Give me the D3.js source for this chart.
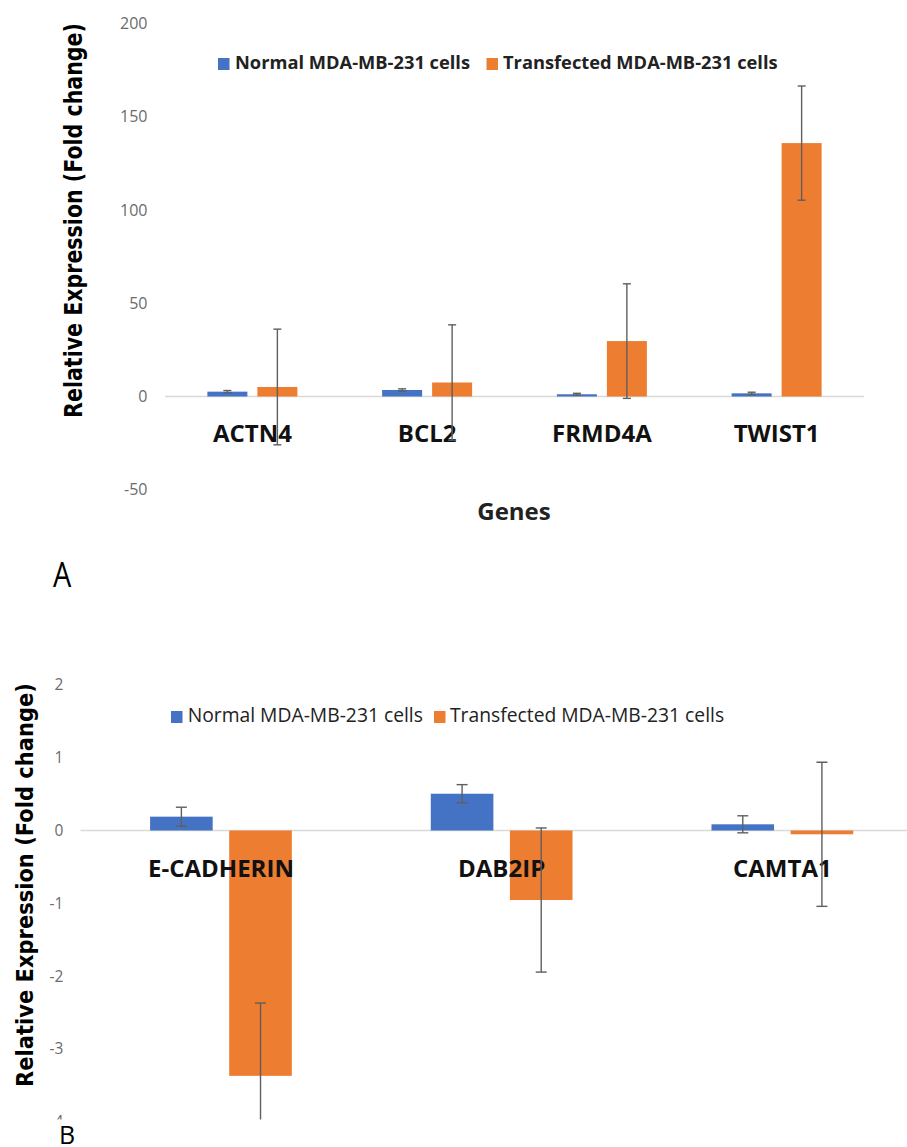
<!DOCTYPE html>
<html><head><meta charset="utf-8">
<script src="https://cdn.jsdelivr.net/npm/d3@7"></script>
<style>html,body{margin:0;padding:0;background:#fff;overflow:hidden}</style>
</head><body>
<svg id="fig" width="907" height="1147"></svg>
<script>
// ---------- data: panel A ----------
const genesA = ["ACTN4", "BCL2", "FRMD4A", "TWIST1"];
const normalA = [2.6, 3.5, 1.2, 1.7];
const normalErrA = [0.6, 0.6, 0.5, 0.6];
const transA = [5.1, 7.5, 29.7, 135.8];
const transErrA = [31.0, 30.9, 30.7, 30.6];
const ticksA = [-50, 0, 50, 100, 150, 200];

// ---------- data: panel B ----------
const genesB = ["E-CADHERIN", "DAB2IP", "CAMTA1"];
const normalB = [0.19, 0.505, 0.085];
const normalErrB = [0.13, 0.125, 0.117];
const transB = [-3.37, -0.955, -0.052];
const transErrB = [1.0, 0.99, 0.99];
const ticksB = [-4, -3, -2, -1, 0, 1, 2];

const seriesNames = ["Normal MDA-MB-231 cells", "Transfected MDA-MB-231 cells"];
const colors = ["#4472C4", "#ED7D31"];

const svg = d3.select("#fig");
svg.append("rect").attr("width", 907).attr("height", 1147).attr("fill", "#fff");

const SANS = "'Open Sans', 'Noto Sans', sans-serif";
const TITLE = "'DejaVu Sans', Verdana, sans-serif";

function fitRotated(g, txt, cx, cy, len, size) {
  const t = g.append("text").text(txt)
    .attr("font-family", TITLE).attr("font-weight", "bold")
    .attr("font-size", size).attr("fill", "#000")
    .attr("text-anchor", "middle").attr("dominant-baseline", "central");
  const w = t.node().getComputedTextLength();
  t.attr("transform", `translate(${cx},${cy}) rotate(-90) scale(${len / w},1)`);
}

function panel(cfg) {
  const g = svg.append("g");
  let root = g;
  if (cfg.clip) {
    const id = "clip" + Math.random().toString(36).slice(2);
    svg.append("clipPath").attr("id", id).append("rect")
      .attr("x", 0).attr("y", cfg.clip[0]).attr("width", 907).attr("height", cfg.clip[1] - cfg.clip[0]);
    root = g.append("g").attr("clip-path", `url(#${id})`);
  }
  const x0 = d3.scaleBand().domain(cfg.genes).range(cfg.xRange).paddingInner(0).paddingOuter(0);
  const x1 = d3.scaleBand().domain([0, 1]).range([0, x0.bandwidth()])
    .paddingInner(cfg.pi).paddingOuter(cfg.po);
  const y = d3.scaleLinear().domain(cfg.yDomain).range(cfg.yRange);

  // tick labels
  const ax = root.append("g").attr("transform", `translate(${cfg.axisX},0)`)
    .call(d3.axisLeft(y).tickValues(cfg.ticks).tickSize(0).tickPadding(cfg.tickPad).tickFormat(d => String(d)));
  ax.select(".domain").remove();
  ax.selectAll("text").attr("font-family", SANS).attr("font-size", cfg.tickSize).attr("fill", "#6b6b6b");

  // zero line
  root.append("line").attr("x1", cfg.xRange[0]).attr("x2", cfg.xRange[1])
    .attr("y1", y(0)).attr("y2", y(0)).attr("stroke", "#d9d9d9").attr("stroke-width", 1.5);

  const rows = [];
  cfg.genes.forEach((gname, i) => {
    rows.push({g: gname, s: 0, v: cfg.normal[i], e: cfg.normalErr[i]});
    rows.push({g: gname, s: 1, v: cfg.trans[i], e: cfg.transErr[i]});
  });

  root.append("g").selectAll("rect").data(rows).join("rect")
    .attr("x", d => x0(d.g) + x1(d.s))
    .attr("width", x1.bandwidth())
    .attr("y", d => y(Math.max(0, d.v)))
    .attr("height", d => Math.abs(y(d.v) - y(0)))
    .attr("fill", d => colors[d.s]);

  // category labels
  root.append("g").selectAll("text").data(cfg.genes).join("text")
    .attr("x", d => x0(d) + x0.bandwidth() / 2).attr("y", cfg.catY)
    .attr("text-anchor", "middle").attr("font-family", SANS).attr("font-weight", "bold")
    .attr("font-size", cfg.catSize).attr("fill", "#111").text(d => d);

  // error bars
  const eb = root.append("g").attr("stroke", "#5f5f5f").attr("stroke-width", 1.4);
  rows.forEach(d => {
    const cx = x0(d.g) + x1(d.s) + x1.bandwidth() / 2;
    const y1 = y(d.v + d.e), y2 = y(d.v - d.e);
    eb.append("line").attr("x1", cx).attr("x2", cx).attr("y1", y1).attr("y2", y2);
    [y1, y2].forEach(yy => eb.append("line").attr("x1", cx - cfg.cap / 2).attr("x2", cx + cfg.cap / 2)
      .attr("y1", yy).attr("y2", yy));
  });

  // legend
  const lg = g.append("g");
  cfg.legend.forEach((L, i) => {
    lg.append("rect").attr("x", L.sx).attr("y", cfg.legendY - 11).attr("width", 11.5).attr("height", 12)
      .attr("fill", colors[i]);
    lg.append("text").attr("x", L.tx).attr("y", cfg.legendY)
      .attr("font-family", SANS).attr("font-weight", cfg.legendWeight)
      .attr("font-size", cfg.legendSize).attr("fill", "#222").text(seriesNames[i]);
  });

  fitRotated(g, "Relative Expression (Fold change)", cfg.titleX, cfg.titleY, cfg.titleLen, cfg.titleSize);
  return g;
}

const gA = panel({
  genes: genesA, normal: normalA, normalErr: normalErrA, trans: transA, transErr: transErrA,
  xRange: [165, 864], pi: 0.2, po: 0.8475,
  yDomain: [-50, 200], yRange: [489.8, 23.3], ticks: ticksA,
  axisX: 165, tickPad: 17.5, tickSize: 16,
  catY: 442, catSize: 24, cap: 8,
  legendY: 69, legendSize: 18.3, legendWeight: "bold",
  legend: [{sx: 218, tx: 235}, {sx: 486.5, tx: 503}],
  titleX: 73, titleY: 220.5, titleLen: 395, titleSize: 25.5
});
gA.append("text").attr("x", 514).attr("y", 520).attr("text-anchor", "middle")
  .attr("font-family", SANS).attr("font-weight", "bold").attr("font-size", 24).attr("fill", "#222").text("Genes");
gA.append("text").attr("transform", "translate(53,587) scale(0.85,1)")
  .attr("font-family", SANS).attr("font-size", 34).attr("fill", "#000").text("A");

const gB = panel({
  genes: genesB, normal: normalB, normalErr: normalErrB, trans: transB, transErr: transErrB,
  xRange: [80.6, 922.7], pi: 0.2089, po: 0.878,
  yDomain: [-4, 2], yRange: [1121.7, 684.9], ticks: ticksB,
  axisX: 81, tickPad: 17.7, tickSize: 15.5,
  catY: 877, catSize: 24, cap: 11,
  legendY: 722, legendSize: 19.3, legendWeight: "normal",
  legend: [{sx: 171, tx: 187.7}, {sx: 434, tx: 450}],
  titleX: 25, titleY: 885, titleLen: 404, titleSize: 23.5,
  clip: [640, 1119.5]
});
gB.append("text").attr("x", 59).attr("y", 1144)
  .attr("font-family", SANS).attr("font-size", 25).attr("fill", "#000").text("B");
</script>
</body></html>
